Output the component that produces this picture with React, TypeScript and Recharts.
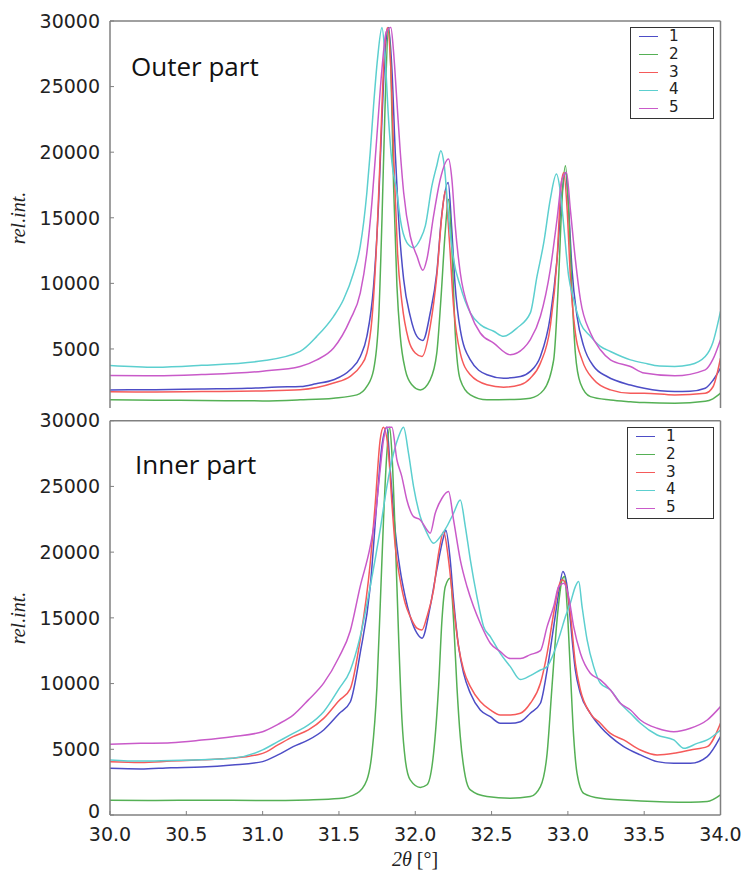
import React from "react";
import { LineChart, Line, XAxis, YAxis, Legend } from "recharts";

const SERIES_NAMES = ["1", "2", "3", "4", "5"];
const COLORS = ["#4d4dc6", "#55b055", "#f55a5a", "#5ccfcf", "#c95ac9"];
const X_TICKS = [30, 30.5, 31, 31.5, 32, 32.5, 33, 33.5, 34];
const OUTER_Y_TICKS = [5000, 10000, 15000, 20000, 25000, 30000];
const INNER_Y_TICKS = [0, 5000, 10000, 15000, 20000, 25000, 30000];

// outer part, [2theta, intensity]
const OUTER_1 = [[30.0,1880],[30.3,1900],[30.6,1950],[30.9,2000],[31.1,2100],[31.25,2140],[31.35,2350],[31.465,2650],[31.574,3410],[31.64,4430],[31.683,5960],[31.727,9790],[31.76,16160],[31.782,22540],[31.803,27640],[31.825,29500],[31.847,26360],[31.869,19990],[31.891,14890],[31.924,10300],[31.967,7500],[32.011,5960],[32.05,5650],[32.098,7740],[32.141,10800],[32.173,15140],[32.216,17690],[32.238,14380],[32.26,10040],[32.295,6470],[32.361,4170],[32.47,3030],[32.579,2770],[32.689,2900],[32.754,3290],[32.82,4430],[32.885,7490],[32.929,11830],[32.962,16930],[32.984,18460],[33.005,15660],[33.027,11070],[33.06,7490],[33.104,5200],[33.17,3660],[33.257,2900],[33.41,2250],[33.5,2000],[33.7,1750],[33.8,1780],[33.9,2010],[33.95,2600],[34.0,3540]];
const OUTER_2 = [[30.0,1120],[30.3,1100],[30.6,1080],[31.0,1040],[31.246,1120],[31.465,1250],[31.618,1500],[31.683,2140],[31.727,3410],[31.76,7240],[31.782,14890],[31.803,23820],[31.825,29500],[31.84,26360],[31.858,17440],[31.88,9790],[31.902,5960],[31.935,3410],[31.978,2270],[32.033,1880],[32.098,2650],[32.141,4680],[32.168,8770],[32.196,13870],[32.218,16420],[32.24,12600],[32.262,6220],[32.295,2650],[32.361,1500],[32.47,1120],[32.689,1170],[32.754,1240],[32.842,1880],[32.907,4170],[32.94,10550],[32.962,16420],[32.984,18970],[33.005,15660],[33.027,9280],[33.049,4680],[33.082,2390],[33.148,1370],[33.279,1110],[33.41,980],[33.5,910],[33.7,860],[33.9,1010],[33.95,1200],[34.0,1630]];
const OUTER_3 = [[30.0,1730],[30.3,1720],[30.6,1750],[31.0,1800],[31.246,1890],[31.465,2400],[31.574,2910],[31.64,3670],[31.683,4690],[31.716,7240],[31.749,13610],[31.771,19990],[31.792,26360],[31.818,29500],[31.84,26360],[31.862,18710],[31.884,12340],[31.913,8510],[31.956,5700],[32.0,4690],[32.044,4430],[32.098,6730],[32.141,10550],[32.174,15140],[32.197,17050],[32.223,13360],[32.251,8260],[32.295,4680],[32.361,3030],[32.47,2270],[32.579,2090],[32.689,2270],[32.754,2770],[32.82,3920],[32.885,6730],[32.929,11830],[32.955,17430],[32.973,18460],[32.995,15660],[33.016,10550],[33.049,6220],[33.093,4170],[33.17,2650],[33.279,1880],[33.41,1620],[33.5,1630],[33.7,1500],[33.9,1630],[33.95,2100],[34.0,4300]];
const OUTER_4 = [[30.0,3740],[30.3,3600],[30.6,3750],[31.0,4100],[31.246,4820],[31.355,5960],[31.465,7490],[31.53,8770],[31.596,10810],[31.64,12850],[31.683,16930],[31.705,19990],[31.727,23560],[31.753,27130],[31.782,29500],[31.803,27130],[31.825,22540],[31.847,19230],[31.88,16930],[31.902,14890],[31.945,13110],[31.989,12720],[32.033,13360],[32.066,14380],[32.109,17430],[32.141,18970],[32.168,20110],[32.19,18970],[32.218,15140],[32.251,11830],[32.295,9790],[32.361,7750],[32.426,6860],[32.514,6350],[32.579,5960],[32.667,6600],[32.754,7750],[32.798,10550],[32.842,13100],[32.885,16420],[32.925,18330],[32.951,16930],[32.973,14380],[33.005,10550],[33.038,8770],[33.082,6980],[33.148,5960],[33.213,5200],[33.279,4810],[33.41,4170],[33.5,3920],[33.6,3700],[33.7,3670],[33.8,3800],[33.9,4430],[33.95,5500],[34.0,7870]];
const OUTER_5 = [[30.0,2975],[30.3,2950],[30.6,3050],[31.0,3310],[31.246,3670],[31.355,4170],[31.465,5070],[31.574,7240],[31.64,9280],[31.683,12340],[31.716,16160],[31.749,21270],[31.782,26360],[31.81,29170],[31.84,29500],[31.858,27640],[31.88,23820],[31.902,19990],[31.924,16930],[31.967,13610],[32.011,12080],[32.05,11000],[32.076,11830],[32.12,15140],[32.164,17940],[32.218,19480],[32.24,17940],[32.262,14380],[32.295,10810],[32.361,7750],[32.426,6220],[32.514,5450],[32.623,4560],[32.711,5070],[32.754,5710],[32.82,7490],[32.885,11070],[32.929,14890],[32.962,17940],[32.991,18460],[33.016,15660],[33.049,11830],[33.082,8770],[33.148,6220],[33.213,4940],[33.279,4170],[33.41,3660],[33.5,3160],[33.7,2950],[33.9,3410],[33.95,4200],[34.0,5710]];

// inner part
const INNER_1 = [[30.0,3550],[30.2,3500],[30.4,3600],[30.6,3650],[30.8,3800],[31.0,4060],[31.1,4570],[31.2,5200],[31.3,5710],[31.4,6470],[31.5,7700],[31.574,8600],[31.639,12300],[31.705,17380],[31.748,23720],[31.781,28030],[31.814,29500],[31.836,26260],[31.858,22960],[31.88,20430],[31.901,18650],[31.934,16620],[31.967,15100],[32.011,13830],[32.044,13450],[32.098,15860],[32.141,18650],[32.186,21180],[32.2,21690],[32.229,19410],[32.251,16370],[32.284,12810],[32.317,10780],[32.361,9260],[32.426,7990],[32.492,7480],[32.557,6980],[32.623,6980],[32.689,7100],[32.754,7740],[32.82,8500],[32.864,11030],[32.907,14330],[32.94,16880],[32.967,18520],[32.995,17380],[33.016,14840],[33.049,11030],[33.082,9260],[33.147,7740],[33.213,6720],[33.279,5960],[33.366,5200],[33.475,4570],[33.585,4060],[33.694,3930],[33.803,3930],[33.913,4440],[34.0,5960]];
const INNER_2 = [[30.0,1130],[30.3,1100],[30.6,1130],[31.0,1100],[31.3,1150],[31.5,1250],[31.617,1650],[31.683,2670],[31.716,4690],[31.749,9770],[31.771,16110],[31.792,22450],[31.814,27520],[31.832,29500],[31.847,27520],[31.869,21180],[31.891,13570],[31.913,7230],[31.935,4180],[31.967,2670],[32.033,2100],[32.077,2300],[32.12,4690],[32.153,9770],[32.175,14840],[32.197,17380],[32.229,18010],[32.251,14840],[32.273,9770],[32.295,5960],[32.328,2920],[32.361,1910],[32.47,1400],[32.623,1270],[32.754,1400],[32.82,2160],[32.864,4690],[32.896,9770],[32.929,14840],[32.962,17890],[32.978,18140],[32.995,15860],[33.016,11030],[33.038,5960],[33.06,3170],[33.104,1650],[33.213,1270],[33.475,1070],[33.803,970],[33.913,1020],[34.0,1530]];
const INNER_3 = [[30.0,4060],[30.2,4000],[30.4,4100],[30.6,4200],[30.8,4310],[31.0,4690],[31.1,5330],[31.2,5960],[31.3,6470],[31.4,7350],[31.5,8700],[31.574,9600],[31.639,13320],[31.705,19160],[31.738,23720],[31.77,28540],[31.792,29500],[31.825,27520],[31.847,23720],[31.869,20430],[31.901,17890],[31.934,16110],[31.967,15100],[32.011,14210],[32.044,14080],[32.077,15100],[32.12,17130],[32.153,19920],[32.186,21560],[32.218,19410],[32.251,15860],[32.284,12810],[32.317,11030],[32.361,9770],[32.426,8630],[32.492,7990],[32.557,7610],[32.623,7610],[32.689,7740],[32.754,8500],[32.82,10020],[32.864,12300],[32.907,15350],[32.94,17380],[32.962,17890],[32.984,17630],[33.016,15350],[33.049,11540],[33.082,9510],[33.147,7740],[33.213,6980],[33.279,6210],[33.366,5710],[33.475,4950],[33.585,4570],[33.694,4690],[33.803,4950],[33.913,5200],[34.0,6980]];
const INNER_4 = [[30.0,4190],[30.2,4100],[30.4,4150],[30.6,4200],[30.8,4310],[31.0,4950],[31.1,5580],[31.2,6210],[31.3,6850],[31.4,7860],[31.5,9600],[31.574,11000],[31.639,13570],[31.705,17380],[31.77,21690],[31.814,24990],[31.858,27520],[31.891,28790],[31.923,29500],[31.956,27520],[31.989,24990],[32.033,22700],[32.077,21440],[32.12,20680],[32.164,21180],[32.207,21950],[32.251,22960],[32.295,23970],[32.328,21950],[32.361,19410],[32.404,16620],[32.448,14330],[32.492,13570],[32.557,12300],[32.623,11290],[32.689,10300],[32.754,10600],[32.82,11030],[32.864,11290],[32.907,12300],[32.951,13830],[32.984,15100],[33.016,16110],[33.049,17380],[33.071,17760],[33.093,15860],[33.126,13320],[33.169,11290],[33.213,10020],[33.279,9510],[33.344,8500],[33.41,7740],[33.475,6980],[33.585,6090],[33.694,5710],[33.76,5070],[33.847,5450],[33.913,5710],[34.0,6470]];
const INNER_5 = [[30.0,5380],[30.2,5450],[30.4,5500],[30.6,5700],[30.8,5960],[31.0,6340],[31.1,6900],[31.2,7600],[31.3,8760],[31.4,10030],[31.5,12000],[31.574,14000],[31.639,17380],[31.705,20430],[31.738,22700],[31.77,26260],[31.792,28540],[31.814,29500],[31.847,29500],[31.88,27010],[31.912,25750],[31.945,23970],[31.989,22700],[32.033,22450],[32.077,21690],[32.098,21440],[32.131,22960],[32.175,24100],[32.218,24610],[32.251,22450],[32.295,19410],[32.339,17380],[32.382,15860],[32.426,14590],[32.492,13070],[32.557,12430],[32.623,11900],[32.689,11900],[32.754,12200],[32.82,12500],[32.864,14330],[32.907,15860],[32.94,17380],[32.973,17630],[33.005,16620],[33.038,14330],[33.082,12300],[33.147,10780],[33.213,10280],[33.279,9510],[33.344,8500],[33.41,7990],[33.475,7230],[33.585,6600],[33.694,6340],[33.803,6600],[33.913,7230],[34.0,8250]];

const OUTER = [OUTER_1, OUTER_2, OUTER_3, OUTER_4, OUTER_5];
const INNER = [INNER_1, INNER_2, INNER_3, INNER_4, INNER_5];

const FRAME = "#808080";
const TICK_TEXT = { fontFamily: "DejaVu Sans", fontSize: 19, fill: "#222" };

const toPoints = (rows: number[][]) => rows.map(([x, y]) => ({ x, y }));

// y tick label; the "0" is lifted a little so it clears the 30.0 label below it
function YTick(props: any) {
  const { x, y, payload } = props;
  const lift = payload.value === 0 ? 4 : 0;
  return (
    <text x={x} y={y - lift} dy="0.355em" textAnchor="end" {...TICK_TEXT}>
      {payload.value}
    </text>
  );
}

// matplotlib-style boxed legend, swatch colour taken by series index
function LegendBox(props: any) {
  const items = props.payload || [];
  return (
    <div
      style={{
        boxSizing: "border-box",
        width: "100%",
        height: "100%",
        border: "1.5px solid #333",
        background: "#fff",
      }}
    >
      {items.map((p: any, i: number) => {
        const idx = SERIES_NAMES.indexOf(String(p.value));
        const color = COLORS[idx >= 0 ? idx : i];
        return (
          <div key={p.value} style={{ display: "flex", alignItems: "center", height: 17.8 }}>
            <span style={{ display: "inline-block", width: 19, borderTop: `1.5px solid ${color}`, marginLeft: 8 }} />
            <span
              style={{
                display: "inline-block",
                marginLeft: 11,
                fontFamily: "DejaVu Sans",
                fontSize: 15.2,
                lineHeight: "17.8px",
                color: "#222",
              }}
            >
              {p.value}
            </span>
          </div>
        );
      })}
    </div>
  );
}

function Panel({
  rows,
  height,
  margin,
  yDomain,
  yTicks,
  showX,
  legendAt,
}: {
  rows: number[][][];
  height: number;
  margin: { top: number; right: number; bottom: number; left: number };
  yDomain: [number, number];
  yTicks: number[];
  showX: boolean;
  legendAt: { left: number; top: number; width: number; height: number };
}) {
  return (
    <LineChart width={745} height={height} margin={margin}>
      <XAxis
        xAxisId="t"
        orientation="top"
        type="number"
        dataKey="x"
        domain={[30, 34]}
        ticks={X_TICKS}
        interval={0}
        height={1}
        tick={false}
        tickSize={-4}
        tickLine={{ stroke: FRAME }}
        axisLine={{ stroke: FRAME, strokeWidth: 1.5 }}
        allowDataOverflow
      />
      {showX && (
        <XAxis
          xAxisId="b"
          orientation="bottom"
          type="number"
          dataKey="x"
          domain={[30, 34]}
          ticks={X_TICKS}
          interval={0}
          height={40}
          tickSize={-4}
          tickMargin={17}
          tickFormatter={(v: number) => v.toFixed(1)}
          tick={TICK_TEXT}
          tickLine={{ stroke: FRAME }}
          axisLine={{ stroke: FRAME, strokeWidth: 1.5 }}
          allowDataOverflow
        />
      )}
      <YAxis
        yAxisId="l"
        orientation="left"
        type="number"
        domain={yDomain}
        ticks={yTicks}
        interval={0}
        width={110}
        tickSize={-4}
        tickMargin={14}
        tick={<YTick />}
        tickLine={{ stroke: FRAME }}
        axisLine={{ stroke: FRAME, strokeWidth: 1.5 }}
        allowDataOverflow
      />
      <YAxis
        yAxisId="r"
        orientation="right"
        type="number"
        domain={yDomain}
        ticks={yTicks}
        interval={0}
        width={1}
        tickSize={-4}
        tick={false}
        tickLine={{ stroke: FRAME }}
        axisLine={{ stroke: FRAME, strokeWidth: 1.5 }}
        allowDataOverflow
      />
      <Legend
        layout="horizontal"
        verticalAlign="middle"
        align="center"
        wrapperStyle={legendAt}
        content={LegendBox}
      />
      {rows.map((r, i) => (
        <Line
          key={SERIES_NAMES[i]}
          name={SERIES_NAMES[i]}
          data={toPoints(r)}
          dataKey="y"
          xAxisId={showX ? "b" : "t"}
          yAxisId="l"
          type="monotone"
          stroke={COLORS[i]}
          strokeWidth={1.5}
          dot={false}
          activeDot={false}
          isAnimationActive={false}
        />
      ))}
    </LineChart>
  );
}

export default function App() {
  return (
    <div style={{ position: "absolute", left: 0, top: 0, width: 745, height: 873, background: "#fff" }}>
      <div style={{ position: "absolute", left: 0, top: 0 }}>
        <Panel
          rows={OUTER}
          height={420}
          margin={{ top: 20, right: 23.5, bottom: 12, left: 0 }}
          yDomain={[500, 30000]}
          yTicks={OUTER_Y_TICKS}
          showX={false}
          legendAt={{ left: 630, top: 27, width: 84, height: 92 }}
        />
      </div>
      <div style={{ position: "absolute", left: 0, top: 400 }}>
        <Panel
          rows={INNER}
          height={473}
          margin={{ top: 19.7, right: 23.5, bottom: 18, left: 0 }}
          yDomain={[0, 30000]}
          yTicks={INNER_Y_TICKS}
          showX={true}
          legendAt={{ left: 627, top: 27, width: 87, height: 92 }}
        />
      </div>
      <svg width={745} height={873} style={{ position: "absolute", left: 0, top: 0, pointerEvents: "none" }}>
        <text x={131} y={76} fontFamily="Open Sans" fontSize={26} fill="#111">Outer part</text>
        <text x={135} y={474} fontFamily="Open Sans" fontSize={26} fill="#111">Inner part</text>
        <text x={25} y={218} transform="rotate(-90 25 218)" textAnchor="middle" fontFamily="Liberation Serif" fontStyle="italic" fontSize={20} fill="#222">rel.int.</text>
        <text x={25} y={618} transform="rotate(-90 25 618)" textAnchor="middle" fontFamily="Liberation Serif" fontStyle="italic" fontSize={20} fill="#222">rel.int.</text>
        <text x={415} y={866} textAnchor="middle" fontFamily="Liberation Serif" fontSize={20} fill="#222">
          <tspan fontStyle="italic">2θ</tspan>
          <tspan> [°]</tspan>
        </text>
      </svg>
    </div>
  );
}
